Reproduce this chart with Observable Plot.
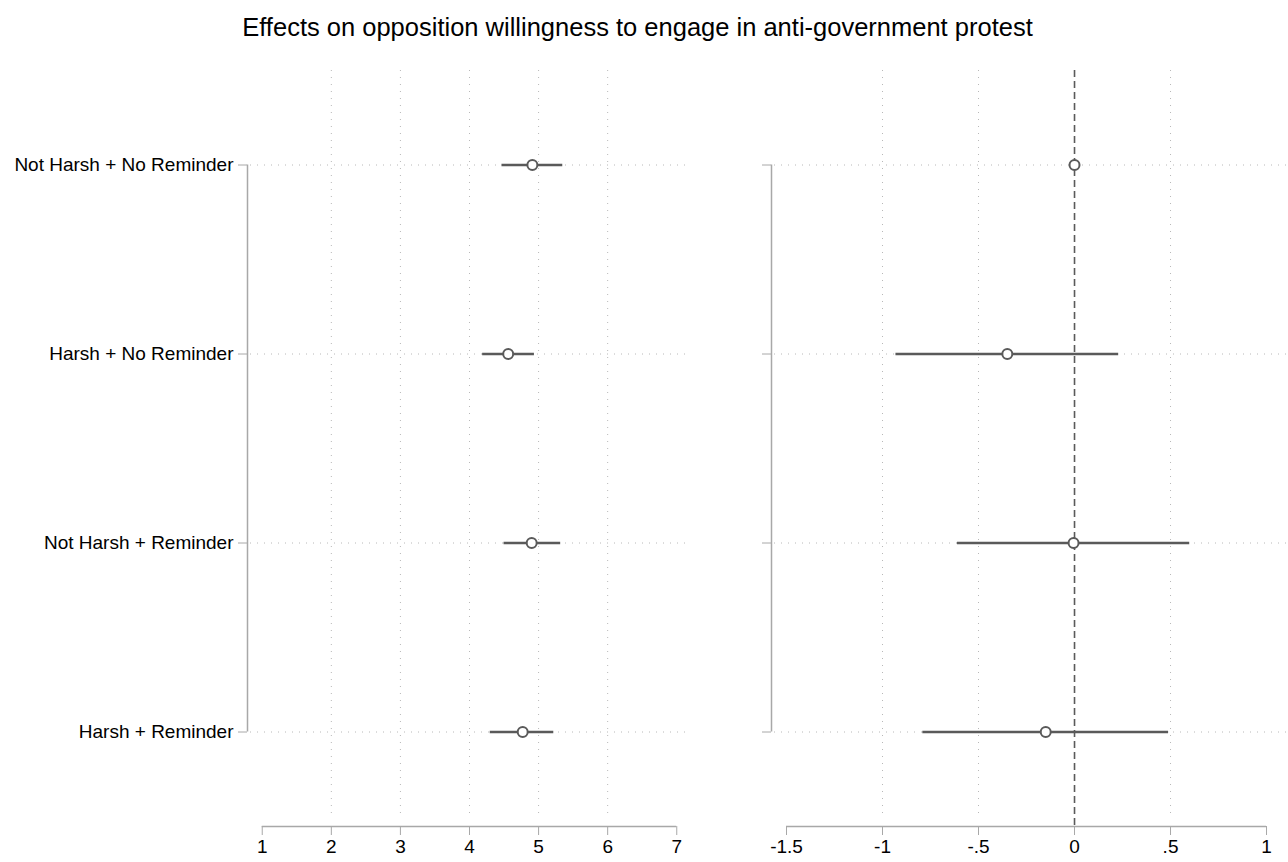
<!DOCTYPE html>
<html>
<head>
<meta charset="utf-8">
<script src="https://cdn.jsdelivr.net/npm/d3@7"></script>
<script src="https://cdn.jsdelivr.net/npm/@observablehq/plot@0.6"></script>
<style>
  html, body { margin: 0; padding: 0; background: #fff; }
  body { width: 1288px; height: 862px; position: relative; overflow: hidden;
         font-family: "Liberation Sans", Arial, Helvetica, sans-serif; }
  #title { position: absolute; top: 15px; left: 0; width: 1275px; text-align: center;
           font-size: 25.5px; line-height: 1; color: #000; }
  #charts { position: absolute; top: 60px; left: 0; display: flex; }
</style>
</head>
<body>
<div id="title">Effects on opposition willingness to engage in anti-government protest</div>
<div id="charts"></div>
<script>
// Treatment groups, top to bottom
const categories = [
  "Not Harsh + No Reminder",
  "Harsh + No Reminder",
  "Not Harsh + Reminder",
  "Harsh + Reminder"
];

// Left panel: mean willingness to protest with 95% CI
const meanEst = [4.91, 4.56, 4.90, 4.77];
const meanLo  = [4.47, 4.19, 4.50, 4.30];
const meanHi  = [5.35, 4.94, 5.32, 5.22];

// Right panel: difference from the reference group with 95% CI
const diffEst = [0, -0.35, -0.005, -0.15];
const diffLo  = [0, -0.93, -0.61, -0.79];
const diffHi  = [0,  0.23,  0.60,  0.49];

// Axis ticks
const meanTicks = [1, 2, 3, 4, 5, 6, 7];
const diffTicks = [-1.5, -1, -0.5, 0, 0.5, 1];

const axisGray = "#a8a8a8";
const gridGray = "#b8b8b8";
const markGray = "#5a5a5a";
const font = "'Liberation Sans', Arial, Helvetica, sans-serif";

// Stata-style number labels: drop the leading zero (".5", "-.5")
const stataFmt = d => String(d).replace("0.", ".");

function panel({width, marginLeft, marginRight, xDomain, ticks, est, lo, hi, showLabels, zeroLine}) {
  const rows = categories.map((c, i) => ({i, est: est[i], lo: lo[i], hi: hi[i]}));
  const idx = d3.range(categories.length);
  const yDomain = [-0.5, categories.length - 0.5];
  const grid = ticks.slice(1, -1).filter(t => !(zeroLine && t === 0));
  return Plot.plot({
    width,
    height: 802,
    marginTop: 10,
    marginBottom: 36,
    marginLeft,
    marginRight,
    x: {domain: xDomain, label: null},
    y: {domain: yDomain, reverse: true, label: null},
    style: {fontFamily: font, fontSize: "19px", color: "#000", background: "transparent", overflow: "visible"},
    marks: [
      // dotted grid
      Plot.ruleX(grid, {stroke: gridGray, strokeWidth: 1, strokeDasharray: "1,6", insetBottom: 8}),
      Plot.ruleY(idx, {stroke: gridGray, strokeWidth: 1, strokeDasharray: "1,6"}),
      // reference line at zero
      zeroLine ? Plot.ruleX([0], {stroke: markGray, strokeWidth: 1.6, strokeDasharray: "7,4"}) : null,
      // confidence intervals and estimates
      Plot.ruleY(rows.filter(d => d.hi > d.lo), {y: "i", x1: "lo", x2: "hi", stroke: markGray, strokeWidth: 2.6}),
      Plot.dot(rows, {x: "est", y: "i", r: 5, stroke: markGray, strokeWidth: 2, fill: "white"}),
      // axis lines spanning the labelled range
      Plot.ruleX([xDomain[0]], {y1: idx[0], y2: idx[idx.length - 1], dx: -3, stroke: axisGray, strokeWidth: 1.5}),
      Plot.ruleY([yDomain[1]], {x1: ticks[0], x2: ticks[ticks.length - 1], stroke: axisGray, strokeWidth: 1.5}),
      Plot.axisY(idx, {anchor: "left", dx: -3, tickSize: 9, tickPadding: 5, stroke: axisGray, fill: "#000",
        label: null, tickFormat: i => showLabels ? categories[i] : ""}),
      Plot.axisX(ticks, {anchor: "bottom", tickSize: 9, tickPadding: 4, stroke: axisGray, fill: "#000",
        label: null, tickFormat: stataFmt})
    ]
  });
}

const charts = document.getElementById("charts");
charts.append(panel({
  width: 720, marginLeft: 250, marginRight: 32,
  xDomain: [0.83, 7.17], ticks: meanTicks,
  est: meanEst, lo: meanLo, hi: meanHi, showLabels: true, zeroLine: false
}));
charts.append(panel({
  width: 568, marginLeft: 54, marginRight: 2,
  xDomain: [-1.5625, 1.104], ticks: diffTicks,
  est: diffEst, lo: diffLo, hi: diffHi, showLabels: false, zeroLine: true
}));
</script>
</body>
</html>
